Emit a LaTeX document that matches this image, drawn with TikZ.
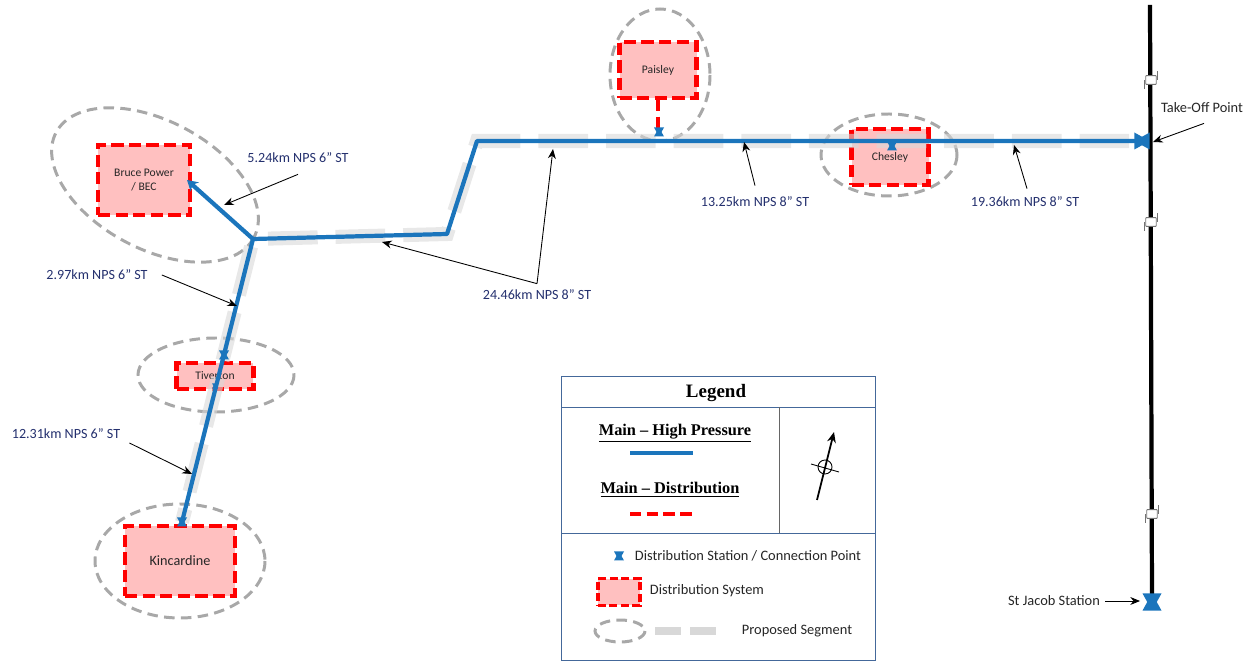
\documentclass[tikz,border=0pt]{standalone}
\usepackage{fontspec}
\usetikzlibrary{arrows.meta}
\setmainfont{Carlito}
\newfontfamily\legendfont{Liberation Serif}
\definecolor{mainblue}{HTML}{1B75BC}
\definecolor{labelblue}{HTML}{24306E}
\definecolor{zonegray}{HTML}{A8A8A8}
\definecolor{propgray}{HTML}{D8D8D8}
\definecolor{boxpink}{HTML}{FFC0C0}
\definecolor{legendline}{HTML}{44689A}
\tikzset{
  distbox/.style={draw=red, fill=boxpink, line width=2.3pt, dash pattern=on 7pt off 3pt, inner sep=0pt, font=\fontsize{6.6}{8}\selectfont, text=black!85, align=center},
  zone/.style={draw=zonegray, line width=1.7pt, dash pattern=on 6pt off 3.6pt},
  hpmain/.style={draw=mainblue, line width=2.4pt, line join=round},
  proposed/.style={draw=propgray, line width=8pt, opacity=0.6, dash pattern=on 28.3pt off 10.2pt},
  distmain/.style={draw=red, line width=2.3pt, dash pattern=on 6.5pt off 3pt},
  note/.style={font=\fontsize{8}{10}\selectfont, text=labelblue, inner sep=0pt},
  plain/.style={font=\fontsize{8.2}{10}\selectfont, text=black!85, inner sep=0pt},
  callout/.style={-{Stealth[length=5.5pt,width=4.5pt]}, line width=0.5pt, draw=black},
  pipebreak/.style={draw=black!55, fill=white, rounded corners=0.4pt, line width=0.5pt, minimum width=6pt, minimum height=5pt, inner sep=0pt},
  legendhead/.style={font=\legendfont\bfseries\fontsize{9.3}{11}\selectfont, inner sep=0pt},
  legendrule/.style={draw=legendline, line width=0.5pt},
  station/.pic={\fill[mainblue] (-5,-4.5) -- (5,-4.5) -- (2.5,0) -- (5,4.5) -- (-5,4.5) -- (-2.5,0) -- cycle;}
}
\begin{document}
\begin{tikzpicture}[x=0.02cm, y=-0.02cm, >=stealth]
  \useasboundingbox (0,0) rectangle (1254,661);
  % zones
  \draw[zone] (660,75) ellipse (50 and 66);
  \draw[zone] (889,155) ellipse (68 and 41);
  \draw[zone, rotate around={-28:(155,185)}] (155,185) ellipse (112 and 64);
  \draw[zone] (216,375) ellipse (78 and 37);
  \draw[zone] (180,561) ellipse (85 and 57);
  % distribution systems
  \node[distbox, minimum width=1.54cm, minimum height=1.12cm] (paisley) at (658,70) {Paisley};
  \node[distbox, minimum width=1.54cm, minimum height=1.12cm] (chesley) at (890,157) {Chesley};
  \node[distbox, minimum width=1.84cm, minimum height=1.4cm] (bruce) at (144,180) {Bruce Power\\/ BEC};
  \node[distbox, minimum width=1.54cm, minimum height=0.52cm] (tiverton) at (215,376) {Tiverton};
  \node[distbox, minimum width=2.2cm, minimum height=1.4cm, font=\fontsize{8.1}{10}\selectfont] (kincardine) at (180,561) {Kincardine};
  % pipeline points
  \coordinate (junction) at (253,239);
  \coordinate (bendA) at (447,234);
  \coordinate (bendB) at (477,141);
  \coordinate (takeoff) at (1145,141);
  \coordinate (brucetip) at (187,180);
  \coordinate (kincend) at (182,522);
  \coordinate (paisleytap) at (658,130);
  \coordinate (pipetop) at (1150,5);
  \coordinate (pipeend) at (1152,600);
  % St Jacob line
  \draw[line width=2.4pt] (pipetop) -- (pipeend);
  \node[pipebreak] (brkA) at (1151,80) {};
  \node[pipebreak] (brkB) at (1151,222) {};
  \node[pipebreak] (brkC) at (1152,514) {};
  \foreach \brk in {brkA,brkB,brkC} {
    \draw[draw=black!55, line width=0.4pt] (\brk.north east) ++(1,-4) -- ++(0,9);
    \draw[draw=black!55, line width=0.4pt] (\brk.south west) ++(-1,4) -- ++(0,-9);
  }
  % proposed segments
  \draw[proposed, dash phase=30pt] (junction) -- (bendA) -- (bendB) -- (takeoff);
  \draw[proposed, dash phase=34pt] (junction) -- (kincend);
  % high pressure main
  \draw[hpmain] (kincend) -- (junction) -- (bendA) -- (bendB) -- (takeoff);
  \draw[hpmain, -{Stealth[length=6pt,width=7pt]}] (junction) -- (brucetip);
  \draw[distmain] (paisley.south) -- (paisleytap);
  % stations
  \pic at (659,132) {station};
  \pic at (892,146) {station};
  \pic at (224,355) {station};
  \pic at (215,386) [scale=0.6] {station};
  \pic at (182,522) {station};
  \pic at (1142,141) [rotate=90, scale=1.7] {station};
  \pic at (1152,602) [scale=1.9] {station};
  % distances
  \node[note] (lblbruce) at (298,158) {5.24km NPS 6” ST};
  \node[note] (lbltiv) at (97,275) {2.97km NPS 6” ST};
  \node[note] (lblkinc) at (66,434) {12.31km NPS 6” ST};
  \node[note] (lblwest) at (537,295) {24.46km NPS 8” ST};
  \node[note] (lblmid) at (755,202) {13.25km NPS 8” ST};
  \node[note] (lbleast) at (1025,202) {19.36km NPS 8” ST};
  \node[plain] (lbltake) at (1202,108) {Take-Off Point};
  \node[plain] (lbljacob) at (1054,601) {St Jacob Station};
  % callouts
  \coordinate (ptbruce) at (224,205);
  \coordinate (pttiv) at (237,306);
  \coordinate (ptkinc) at (192,474);
  \coordinate (ptwestA) at (382,242);
  \coordinate (ptwestB) at (553,149);
  \coordinate (ptmid) at (744,142);
  \coordinate (pteast) at (1014,145);
  \coordinate (pttake) at (1153,142);
  \coordinate (ptjacob) at (1140,601);
  \draw[callout] (lblbruce.south) ++(0,11) -- (ptbruce);
  \draw[callout] (lbltiv.east) ++(14,0) -- (pttiv);
  \draw[callout] (lblkinc.east) ++(9,9) -- (ptkinc);
  \draw[callout] (lblwest.north) ++(0,-6) coordinate (westfoot) -- (ptwestA);
  \draw[callout] (westfoot) -- (ptwestB);
  \draw[callout] (lblmid.north) ++(0,-11) -- (ptmid);
  \draw[callout] (lbleast.north) ++(2,-8) -- (pteast);
  \draw[callout] (lbltake.south) ++(2,10) -- (pttake);
  \draw[callout] (lbljacob.east) ++(5,0) -- (ptjacob);
  % legend
  \coordinate (legNW) at (561,376);
  \coordinate (legSE) at (875,660);
  \draw[legendrule] (legNW) rectangle (legSE);
  \draw[legendrule] (561,407) -- (875,407);
  \draw[legendrule] (561,533) -- (875,533);
  \draw[draw=black!60, line width=0.5pt] (779,407) -- (779,533);
  \node[legendhead, font=\legendfont\bfseries\fontsize{10.8}{13}\selectfont] (legtitle) at (716,393) {Legend};
  \node[legendhead] (leghigh) at (675,433) {\underline{Main – High Pressure}};
  \coordinate (hpA) at (630,453);
  \coordinate (hpB) at (693,453);
  \draw[hpmain] (hpA) -- (hpB);
  \node[legendhead] (legdist) at (670,490) {\underline{Main – Distribution}};
  \coordinate (dmA) at (630,514);
  \coordinate (dmB) at (692,514);
  \draw[distmain] (dmA) -- (dmB);
  % north arrow
  \coordinate (northA) at (817,500);
  \coordinate (northB) at (834,432);
  \coordinate (crossA) at (811,464);
  \coordinate (crossB) at (839,472);
  \draw[-{Stealth[length=6pt,width=5pt]}, line width=1pt] (northA) -- (northB);
  \draw[line width=0.5pt] (825,467) circle (7);
  \draw[line width=0.5pt] (crossA) -- (crossB);
  % legend keys
  \pic at (619,556) {station};
  \node[plain] (legstation) at (748,556) {Distribution Station / Connection Point};
  \node[distbox, minimum width=0.84cm, minimum height=0.54cm, line width=1.9pt, dash pattern=on 4.5pt off 2pt] (legbox) at (619,592) {};
  \node[plain] (legsystem) at (707,591) {Distribution System};
  \draw[zone] (620,631) ellipse (25 and 11);
  \coordinate (segA) at (655,631);
  \coordinate (segB) at (681,631);
  \coordinate (segC) at (690,631);
  \coordinate (segD) at (716,631);
  \draw[draw=propgray, line width=4.4pt] (segA) -- (segB);
  \draw[draw=propgray, line width=4.4pt] (segC) -- (segD);
  \node[plain] (legprop) at (797,631) {Proposed Segment};
\end{tikzpicture}
\end{document}
